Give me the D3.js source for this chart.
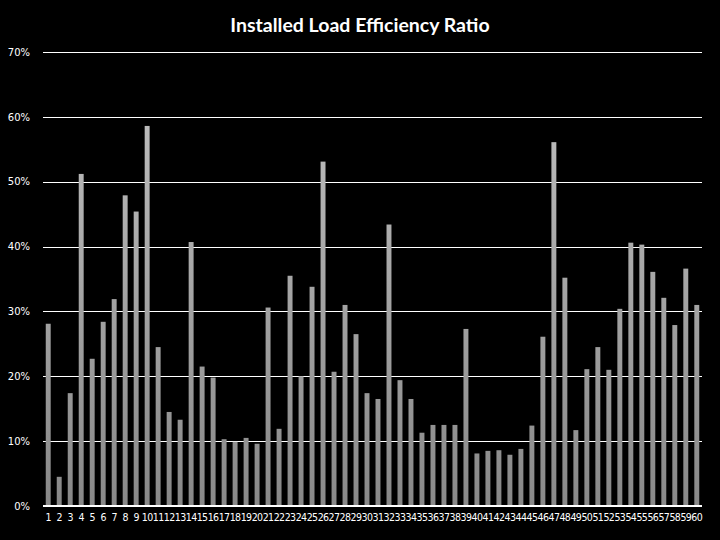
<!DOCTYPE html>
<html>
<head>
<meta charset="utf-8">
<script src="https://cdn.jsdelivr.net/npm/d3@7"></script>
<style>
  html, body { margin: 0; padding: 0; background: #000; }
  svg { display: block; }
</style>
</head>
<body>
<div id="chart"></div>
<script>
// data (percent)
const categories = d3.range(1, 61).map(String);
const ratios = [
  28.1, 4.5, 17.4, 51.2, 22.7, 28.4, 31.9, 47.9, 45.4, 58.6,
  24.5, 14.5, 13.3, 40.7, 21.5, 19.8, 10.3, 9.9, 10.5, 9.6,
  30.6, 11.9, 35.5, 20.0, 33.8, 53.1, 20.7, 31.0, 26.5, 17.4,
  16.5, 43.4, 19.4, 16.5, 11.3, 12.5, 12.5, 12.5, 27.3, 8.1,
  8.5, 8.6, 7.9, 8.8, 12.4, 26.1, 56.1, 35.2, 11.7, 21.1,
  24.5, 21.0, 30.4, 40.6, 40.3, 36.1, 32.1, 27.9, 36.6, 31.0
];
const yTicks = [0, 10, 20, 30, 40, 50, 60, 70];
const title = 'Installed Load Efficiency Ratio';

const width = 720, height = 540;
const margin = { top: 52, right: 18, bottom: 34, left: 43 };

const svg = d3.select('#chart').append('svg')
    .attr('width', width)
    .attr('height', height)
    .style('background', '#000');

const x = d3.scaleBand()
    .domain(categories)
    .range([margin.left, width - margin.right])
    .paddingInner(0.55)
    .paddingOuter(0.25);

const y = d3.scaleLinear()
    .domain([0, 70])
    .range([height - margin.bottom, margin.top]);

// gradient for bars, light on top, darker near the axis
const defs = svg.append('defs');
const grad = defs.append('linearGradient')
    .attr('id', 'barGrad')
    .attr('gradientUnits', 'userSpaceOnUse')
    .attr('x1', 0).attr('x2', 0)
    .attr('y1', y(0)).attr('y2', y(60));
grad.append('stop').attr('offset', '0%').attr('stop-color', '#888');
grad.append('stop').attr('offset', '100%').attr('stop-color', '#bcbcbc');

// gridlines
svg.append('g')
    .selectAll('line')
    .data(yTicks.filter(d => d > 0))
    .join('line')
    .attr('x1', margin.left)
    .attr('x2', width - margin.right)
    .attr('y1', d => Math.round(y(d)) + 0.5)
    .attr('y2', d => Math.round(y(d)) + 0.5)
    .attr('stroke', '#fff')
    .attr('stroke-width', 1);

// bars
svg.append('g')
    .selectAll('rect')
    .data(ratios)
    .join('rect')
    .attr('x', (d, i) => x(categories[i]))
    .attr('y', d => y(d))
    .attr('width', x.bandwidth())
    .attr('height', d => y(0) - y(d))
    .attr('fill', 'url(#barGrad)');

// y axis labels
const yAxis = svg.append('g')
    .attr('transform', `translate(${margin.left - 10},0)`)
    .call(d3.axisLeft(y).tickValues(yTicks).tickFormat(d => d + '%').tickSize(0));
yAxis.select('.domain').remove();
yAxis.selectAll('text')
    .attr('fill', '#fff')
    .attr('font-family', 'Verdana, "DejaVu Sans", sans-serif')
    .attr('font-size', 10);

// baseline
svg.append('line')
    .attr('x1', margin.left)
    .attr('x2', width - margin.right)
    .attr('y1', y(0))
    .attr('y2', y(0))
    .attr('stroke', '#fff')
    .attr('stroke-width', 2);

// x axis labels
const xAxis = svg.append('g')
    .attr('transform', `translate(0,${y(0) + 5})`)
    .call(d3.axisBottom(x).tickSize(0));
xAxis.select('.domain').remove();
xAxis.selectAll('text')
    .attr('fill', '#fff')
    .attr('font-family', '"DejaVu Sans Condensed", "DejaVu Sans", sans-serif')
    .attr('font-size', 10.5)
    .attr('letter-spacing', -0.6);

// title
svg.append('text')
    .attr('x', width / 2)
    .attr('y', 32)
    .attr('text-anchor', 'middle')
    .attr('fill', '#fff')
    .attr('font-family', 'Lato, "Open Sans", sans-serif')
    .attr('font-weight', 'bold')
    .attr('font-size', 19.5)
    .text(title);
</script>
</body>
</html>
